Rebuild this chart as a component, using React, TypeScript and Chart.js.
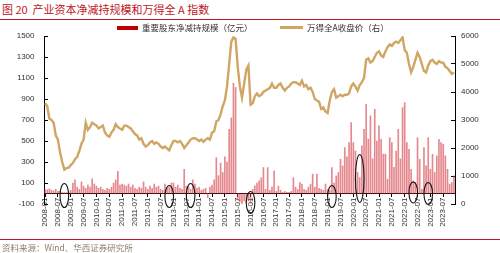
import React, { useEffect, useRef } from 'react';
import { Chart, registerables } from 'chart.js';

Chart.register(...registerables);

// ---------- data ----------
const years = ['2008', '2009', '2010', '2011', '2012', '2013', '2014', '2015', '2016', '2017', '2018', '2019', '2020', '2021', '2022', '2023'];
const months = ['01', '02', '03', '04', '05', '06', '07', '08', '09', '10', '11', '12'];
const categories = years.flatMap((y) => months.map((m) => `${y}-${m}`));
const labelMonths = ['01', '07'];

const titleText = '图 20  产业资本净减持规模和万得全 A 指数';
const sourceText = '资料来源：Wind、华西证券研究所';
const barSeriesName = '重要股东净减持规模（亿元）';
const lineSeriesName = '万得全A收盘价（右）';

// 重要股东净减持规模（亿元）, monthly 2008-01 .. 2023-12
const netReduction = [
  40, 35, 45, 30, 25, 40, 20, 20, 10, 8, 10, 15,
  30, 100, 130, 60, 40, 110, 70, 50, 80, 60, 140, 90,
  70, 50, 60, 40, 30, 50, 40, 60, 100, 130, 210, 80,
  90, 80, 70, 90, 60, 80, 50, 40, 60, 50, 110, 60,
  40, 70, 50, 90, 60, 70, 40, 30, 90, 50, 60, 100,
  100, 60, 80, 50, 40, 230, 70, 60, 40, 130, 90, 50,
  60, 30, 40, 50, -40, 60, 80, 130, 340, 170, 290, 200,
  350, 300, 610, 720, 1050, 1010, -60, -80, -100, -70, -90, -60,
  -90, 40, 73, 100, 120, 150, 247, 40, 247, 30, 60, 215,
  20, 70, 30, 10, 20, 10, 10, 20, 150, 60, 40, 105,
  90, 40, 30, 60, 89, 184, 60, 184, 50, 40, 30, 90,
  40, 30, 247, 100, 168, 200, 326, 263, 437, 350, 485, 675,
  485, 405, 200, 152, 453, 612, 850, 517, 739, 330, 802, 500,
  644, 517, 374, 374, 136, 532, 485, 250, 405, 612, 330, 818,
  865, 485, 421, 230, 120, 105, 532, 326, 40, 437, 263, 532,
  231, 374, 200, 358, 517, 485, 469, 358, 231, 89, 105, 168,
];

// 万得全A收盘价, monthly 2008-01 .. 2023-12
const windAllA = [
  3600, 3500, 3050, 3000, 2900, 2450, 2300, 1850, 1500, 1230, 1280, 1300,
  1390, 1460, 1600, 1680, 1900, 2150, 2300, 2900, 2650, 2750, 2900, 2850,
  2800, 2700, 2750, 2800, 2550, 2450, 2400, 2550, 2650, 2850, 2750, 2700,
  2650, 2800, 2800, 2750, 2700, 2600, 2500, 2450, 2300, 2350, 2150, 2050,
  2100, 2200, 2250, 2150, 2200, 2150, 2050, 2000, 2050, 1980, 1920, 2100,
  2250, 2250, 2200, 2250, 2150, 2000, 2100, 2200, 2300, 2350, 2350, 2300,
  2250, 2300, 2220, 2300, 2350, 2300, 2550, 2600, 2950, 3000, 3200, 3500,
  3700, 4200, 5000, 5800, 5950, 5900, 4900, 4200, 3800, 4300, 4800, 4950,
  3550, 3600, 3850, 3950, 3850, 3900, 4000, 4050, 4100, 4150, 4300, 4150,
  4150, 4250, 4300, 4150, 4050, 4150, 4200, 4300, 4350, 4350, 4300, 4250,
  4400, 4200, 4250, 4100, 4150, 4000, 3750, 3700, 3650, 3400, 3450, 3300,
  3250, 3700, 4000, 4100, 3800, 3850, 3900, 3850, 3900, 3900, 3950, 4200,
  4300, 4200, 4050, 4250, 4350, 4500, 5150, 5200, 5050, 5100, 5250, 5400,
  5450, 5300, 5250, 5450, 5600, 5700, 5650, 5750, 5800, 5750, 5850, 5950,
  5500, 5400, 5000, 4700, 4900, 5150, 5400, 5250, 5000, 4750, 4700, 4950,
  5100, 5150, 5050, 5000, 5100, 5050, 5050, 4900, 4850, 4750, 4650, 4700,
];

// hand-drawn ellipse annotations: month and centre value on the left axis
const circledMonths = ['2008-10', '2012-11', '2013-09', '2016-01', '2019-03', '2020-04', '2022-05', '2022-12'];
const circledCenters = [-19, -29, -19, -86, -29, 143, 10, 0];
const circledSpans = [12, 11, 12, 11, 11, 24, 10.5, 11];

const leftMin = -100, leftMax = 1500, leftStep = 200;
const rightMin = 0, rightMax = 6000, rightStep = 1000;

// ---------- styles ----------
const RED = '#c0161e';
const BAR_COLOR = 'rgba(210,50,60,0.58)';
const LEGEND_BAR = '#c00000';
const LINE_COLOR = '#cfa664';
const TICK_COLOR = '#333333';
const CJK = '"Noto Sans CJK SC", "Noto Sans", sans-serif';

const isLabelIndex = (i: number) => labelMonths.includes(categories[i]?.slice(5));
const plainNumber = (v: any) => String(v);

const ellipsePlugin = {
  id: 'circleMarks',
  afterDraw(chart: any) {
    const { ctx, scales } = chart;
    const x = scales.x, y = scales.y;
    ctx.save();
    ctx.strokeStyle = '#151515';
    ctx.lineWidth = 1.1;
    circledMonths.forEach((m, k) => {
      const idx = categories.indexOf(m);
      const cx = x.getPixelForValue(idx);
      const cy = y.getPixelForValue(circledCenters[k]);
      ctx.beginPath();
      ctx.ellipse(cx, cy, 4.3, circledSpans[k], 0, 0, Math.PI * 2);
      ctx.stroke();
    });
    ctx.restore();
  },
};

export default function App() {
  const ref = useRef<HTMLCanvasElement | null>(null);

  useEffect(() => {
    if (!ref.current) return;
    Chart.defaults.font.family = '"Liberation Sans", Arial, sans-serif';
    Chart.defaults.font.size = 8;
    const chart = new Chart(ref.current, {
      type: 'bar',
      data: {
        labels: categories,
        datasets: [
          {
            type: 'line',
            label: lineSeriesName,
            data: windAllA,
            yAxisID: 'y1',
            borderColor: LINE_COLOR,
            backgroundColor: LINE_COLOR,
            borderWidth: 2.4,
            pointRadius: 0,
            tension: 0,
            order: 1,
          } as any,
          {
            type: 'bar',
            label: barSeriesName,
            data: netReduction,
            yAxisID: 'y',
            backgroundColor: BAR_COLOR,
            barThickness: 1,
            order: 2,
          } as any,
        ],
      },
      options: {
        responsive: false,
        animation: false,
        devicePixelRatio: 1,
        layout: { padding: { top: 36, bottom: 49, left: 0, right: 0 } },
        plugins: { legend: { display: false }, tooltip: { enabled: false } },
        scales: {
          x: {
            position: { y: 0 } as any,
            offset: true,
            grid: {
              display: true,
              drawOnChartArea: false,
              drawTicks: true,
              tickLength: 3,
              offset: false,
              color: 'rgba(0,0,0,0)',
              tickColor: (c: any) => (isLabelIndex(c.index) ? '#000' : 'rgba(0,0,0,0)'),
            },
            border: { display: true, color: '#000', width: 1 },
            ticks: {
              autoSkip: false,
              minRotation: 90,
              maxRotation: 90,
              padding: 1,
              color: TICK_COLOR,
              font: { size: 8 },
              callback: (_v: any, i: number) => (isLabelIndex(i) ? categories[i] : ''),
            },
          },
          y: {
            position: 'left',
            min: leftMin,
            max: leftMax,
            grid: { display: true, drawOnChartArea: false, drawTicks: true, tickLength: -4, tickColor: '#000' },
            border: { display: true, color: '#000', width: 1 },
            ticks: { stepSize: leftStep, padding: 13.5, color: TICK_COLOR, font: { size: 8 }, callback: plainNumber },
            afterFit: (s: any) => { s.width = 44; },
          },
          y1: {
            position: 'right',
            min: rightMin,
            max: rightMax,
            grid: { display: true, drawOnChartArea: false, drawTicks: true, tickLength: -4, tickColor: '#000' },
            border: { display: true, color: '#000', width: 1 },
            ticks: { stepSize: rightStep, padding: 10, color: TICK_COLOR, font: { size: 8 }, callback: plainNumber },
            afterFit: (s: any) => { s.width = 45; },
          },
        } as any,
      },
      plugins: [ellipsePlugin],
    });
    return () => chart.destroy();
  }, []);

  return (
    <div style={{ position: 'fixed', left: 0, top: 0, width: 500, height: 253, background: '#fff', overflow: 'hidden' }}>
      <div style={{ position: 'absolute', left: 2, top: 1, fontFamily: CJK, fontSize: 11, lineHeight: '16px', color: RED, whiteSpace: 'pre' }}>
        {titleText}
      </div>
      <div style={{ position: 'absolute', left: 0, top: 19, width: 500, height: 1, background: RED }} />
      <canvas ref={ref} width={500} height={253} style={{ position: 'absolute', left: 0, top: 0, width: 500, height: 253 }} />
      <div style={{ position: 'absolute', left: 117, top: 25.5, width: 21, height: 4, background: LEGEND_BAR }} />
      <div style={{ position: 'absolute', left: 142, top: 21, fontFamily: CJK, fontSize: 8.5, lineHeight: '12px', color: TICK_COLOR, whiteSpace: 'nowrap' }}>
        {barSeriesName}
      </div>
      <div style={{ position: 'absolute', left: 280, top: 26, width: 23, height: 2.5, background: LINE_COLOR }} />
      <div style={{ position: 'absolute', left: 307, top: 21, fontFamily: CJK, fontSize: 8.5, lineHeight: '12px', color: TICK_COLOR, whiteSpace: 'nowrap' }}>
        {lineSeriesName}
      </div>
      <div style={{ position: 'absolute', left: 0, top: 239, width: 500, height: 1, background: RED }} />
      <div style={{ position: 'absolute', left: 2, top: 241, fontFamily: CJK, fontSize: 8.5, lineHeight: '12px', color: '#8c7b6a', whiteSpace: 'nowrap' }}>
        {sourceText}
      </div>
    </div>
  );
}
